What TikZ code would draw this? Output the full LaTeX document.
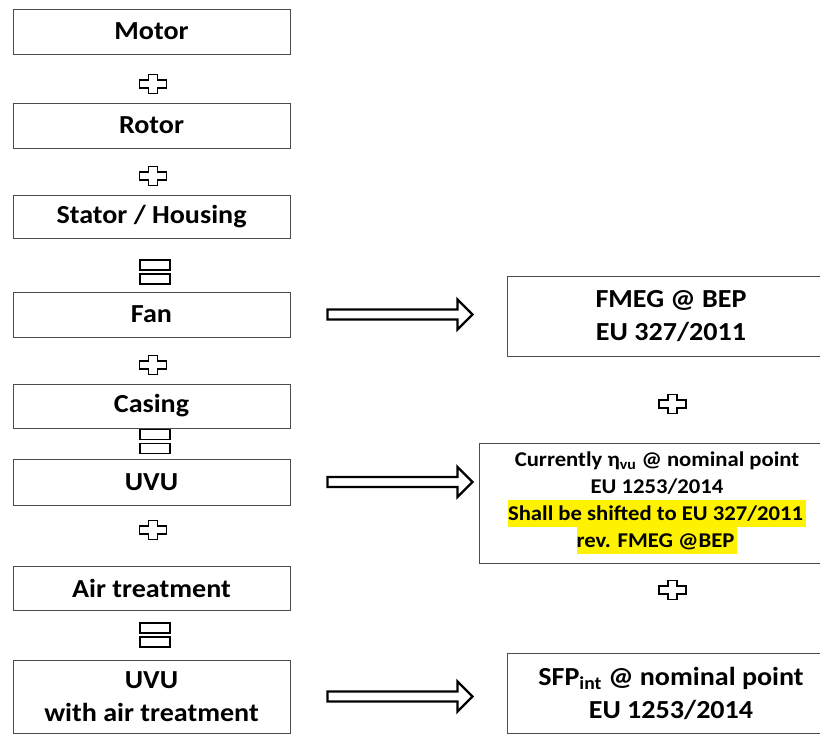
\documentclass[tikz,border=0pt]{standalone}
\usepackage{fontspec}
\setmainfont{Carlito}[FakeStretch=1.08]
\usetikzlibrary{calc}
\newcommand\hlt[1]{{\setlength{\fboxsep}{0pt}\colorbox{yellow}{\rule[-7pt]{0pt}{27pt}#1\hspace{3pt}}}}
\tikzset{
  box/.style={draw=black!70, line width=1pt, fill=white, minimum width=277, inner sep=0pt,
    align=center, font=\bfseries\fontsize{26}{33}\selectfont},
  rbox/.style={box, minimum width=328},
  blk/.style={draw=black, line width=2.4pt, fill=white, line join=miter},
  sym/.style={draw=black, line width=1.4pt, fill=white},
  plussign/.pic={\draw[sym] (-13.5,-4) -- (-4.5,-4) -- (-4.5,-9.5) -- (4.5,-9.5) -- (4.5,-4) -- (13.5,-4) -- (13.5,4) -- (4.5,4) -- (4.5,9.5) -- (-4.5,9.5) -- (-4.5,4) -- (-13.5,4) -- cycle;},
  equalsign/.pic={\draw[sym] (-15,-12) rectangle (15,-2); \draw[sym] (-15,2) rectangle (15,12);}
}
\newcommand\blockarrow[1]{\draw[blk] ($(#1.east)+(37,-5)$) -- ++(130,0) -- ++(0,-10) -- ++(15,15) -- ++(-15,15) -- ++(0,-10) -- ++(-130,0) -- cycle;}
\begin{document}
\begin{tikzpicture}[x=1pt, y=-1pt]
\useasboundingbox (0,0) rectangle (820,736);
\clip (0,0) rectangle (820,736);
% left column
\node[box, minimum height=45] (motor) at (151.5,31.5) {Motor};
\node[box, minimum height=45] (rotor) at (151.5,125.5) {Rotor};
\node[box, minimum height=43] (stator) at (151.5,216.5) {Stator / Housing};
\node[box, minimum height=45] (fan) at (151.5,314.5) {Fan};
\node[box, minimum height=44] (casing) at (151.5,406) {Casing};
\node[box, minimum height=46] (uvu) at (151.5,482) {UVU};
\node[box, minimum height=44] (air) at (151.5,588) {Air treatment};
\node[box, minimum height=73] (uvuair) at (151.5,696.5) {UVU\\with air treatment};
\pic at (153,84) {plussign};
\pic at (153,176) {plussign};
\pic at (155,272) {equalsign};
\pic at (153,365) {plussign};
\pic at (155,441.5) {equalsign};
\pic at (153,530) {plussign};
\pic at (155,635) {equalsign};
% right column
\node[rbox, minimum height=80] (fmeg) at (671,316) {FMEG @ BEP\\EU 327/2011};
\node[box, minimum width=356, minimum height=120, font=\bfseries\fontsize{21}{27}\selectfont] (eta) at (657,503)
  {\raisebox{0pt}[\height][\depth]{}\vspace{0pt}Currently η\textsubscript{vu} @ nominal point\\EU 1253/2014\\\hlt{Shall be shifted to EU 327/2011}\\\hlt{rev. FMEG @BEP}};
\node[rbox, minimum height=80] (sfp) at (671,693) {SFP\textsubscript{int} @ nominal point\\EU 1253/2014};
\pic at (672.5,404) {plussign};
\pic at (672.5,590) {plussign};
% block arrows
\blockarrow{fan}
\blockarrow{uvu}
\blockarrow{uvuair}
\end{tikzpicture}
\end{document}
